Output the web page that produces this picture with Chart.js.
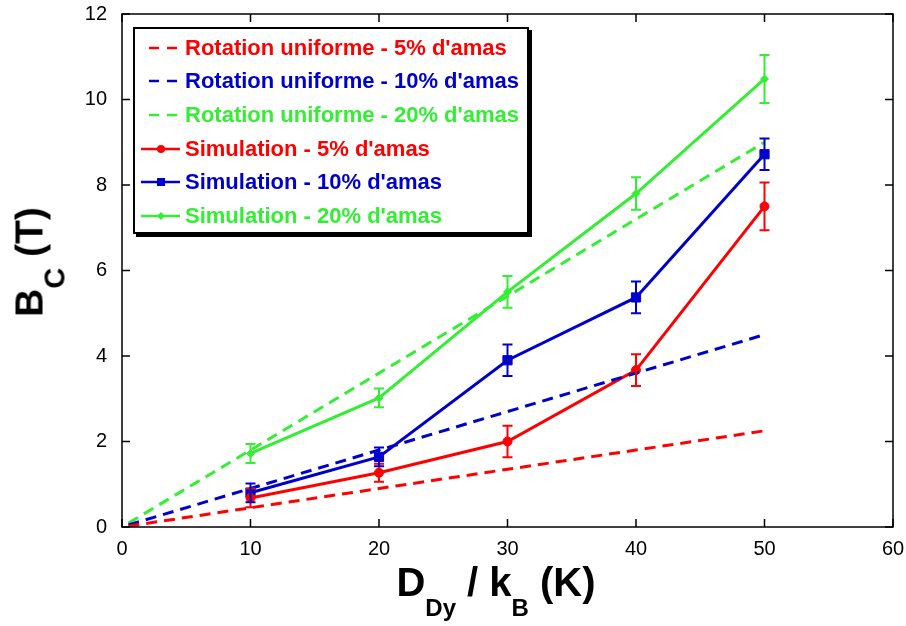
<!DOCTYPE html>
<html>
<head>
<meta charset="utf-8">
<script src="https://cdn.jsdelivr.net/npm/chart.js@4"></script>
<style>
  body { margin: 0; background: #fff; }
  #wrap { position: relative; width: 906px; height: 626px; font-family: "Liberation Sans", Arial, sans-serif; }
  #myChart { position: absolute; left: 0; top: 0; }
  .axTitle { position: absolute; font-weight: bold; line-height: 1; white-space: nowrap; color: #000; }
  .axTitle .sb { position: relative; }
  #yTitle { font-size: 39px; left: 29px; top: 262px; transform: translate(-50%, -50%) rotate(-90deg); }
  #yTitle .sb { font-size: 29px; top: 22px; }
  #xTitle { font-size: 40px; left: 496px; top: 562px; transform: translateX(-50%); }
  #xTitle .sb { font-size: 24px; top: 20px; }
  #legend { position: absolute; left: 133px; top: 27px; width: 392px; height: 201px; border: 2px solid #000;
            box-shadow: 3px 3px 0 #000; background: #fff; padding-top: 2px; box-sizing: content-box; }
  .row { display: flex; align-items: center; height: 33.6px; font-weight: bold; font-size: 22px; white-space: nowrap; }
  .row svg { margin-left: 6px; margin-right: 4px; }
</style>
</head>
<body>
<div id="wrap">
  <canvas id="myChart" width="906" height="626"></canvas>
  <div id="legend"></div>
  <div class="axTitle" id="yTitle">B<span class="sb">C</span> (T)</div>
  <div class="axTitle" id="xTitle">D<span class="sb">Dy</span> / k<span class="sb">B</span> (K)</div>
</div>
<script>
// D_Dy / kB values (K)
const xSim = [10, 20, 30, 40, 50];
const xUni = [0.5, 10, 20, 30, 40, 50];

// uniform rotation model (dashed)
const uni5 = [0.02, 0.45, 0.9, 1.35, 1.8, 2.25];
const uni10 = [0.05, 0.9, 1.8, 2.7, 3.6, 4.5];
const uni20 = [0.09, 1.8, 3.6, 5.4, 7.2, 9.0];

// simulation points + error bars
const sim5 = [0.68, 1.27, 2.0, 3.67, 7.5];
const err5 = [0.22, 0.21, 0.37, 0.37, 0.56];
const sim10 = [0.8, 1.64, 3.9, 5.37, 8.72];
const err10 = [0.22, 0.22, 0.37, 0.37, 0.37];
const sim20 = [1.72, 3.02, 5.5, 7.8, 10.48];
const err20 = [0.22, 0.22, 0.37, 0.38, 0.56];

const xTicks = [0, 10, 20, 30, 40, 50, 60];
const yTicks = [0, 2, 4, 6, 8, 10, 12];

const red = '#ff0000', blue = '#0000cc', green = '#33ee33';

function pts(xs, ys) {
  return xs.map((x, i) => ({x: x, y: ys[i]}));
}

function dashed(label, ys, color) {
  return {
    label: label, data: pts(xUni, ys), borderColor: color, backgroundColor: color,
    borderWidth: 3, borderDash: [11, 7], pointRadius: 0, dashed: true
  };
}
function simul(label, ys, errs, color, style, r) {
  return {
    label: label, data: pts(xSim, ys), errors: errs, borderColor: color, backgroundColor: color,
    borderWidth: 3, pointStyle: style, pointRadius: r, pointBorderWidth: 1,
    pointBackgroundColor: color, pointBorderColor: color
  };
}

const datasets = [
  dashed("Rotation uniforme - 5% d'amas", uni5, red),
  dashed("Rotation uniforme - 10% d'amas", uni10, blue),
  dashed("Rotation uniforme - 20% d'amas", uni20, green),
  simul("Simulation - 5% d'amas", sim5, err5, red, 'circle', 4.5),
  simul("Simulation - 10% d'amas", sim10, err10, blue, 'rect', 6.5),
  simul("Simulation - 20% d'amas", sim20, err20, green, 'rectRot', 4)
];

// error bars from the library scales
const errorBars = {
  id: 'errorBars',
  afterDatasetsDraw(chart) {
    const ctx = chart.ctx, xs = chart.scales.x, ys = chart.scales.y;
    chart.data.datasets.forEach(ds => {
      if (!ds.errors) return;
      ctx.save();
      ctx.strokeStyle = ds.borderColor;
      ctx.lineWidth = 2;
      ds.data.forEach((p, i) => {
        const px = xs.getPixelForValue(p.x);
        const top = ys.getPixelForValue(p.y + ds.errors[i]);
        const bot = ys.getPixelForValue(p.y - ds.errors[i]);
        ctx.beginPath();
        ctx.moveTo(px, top); ctx.lineTo(px, bot);
        ctx.moveTo(px - 5, top); ctx.lineTo(px + 5, top);
        ctx.moveTo(px - 5, bot); ctx.lineTo(px + 5, bot);
        ctx.stroke();
      });
      ctx.restore();
    });
  }
};

// box frame with inward ticks on all four sides
const frame = {
  id: 'frame',
  afterDraw(chart) {
    const ctx = chart.ctx, a = chart.chartArea, xs = chart.scales.x, ys = chart.scales.y;
    ctx.save();
    ctx.strokeStyle = '#000';
    ctx.lineWidth = 1.5;
    ctx.strokeRect(a.left, a.top, a.right - a.left, a.bottom - a.top);
    ctx.beginPath();
    xTicks.forEach(v => {
      const px = xs.getPixelForValue(v);
      ctx.moveTo(px, a.bottom); ctx.lineTo(px, a.bottom - 8);
      ctx.moveTo(px, a.top); ctx.lineTo(px, a.top + 8);
    });
    yTicks.forEach(v => {
      const py = ys.getPixelForValue(v);
      ctx.moveTo(a.left, py); ctx.lineTo(a.left + 8, py);
      ctx.moveTo(a.right, py); ctx.lineTo(a.right - 8, py);
    });
    ctx.stroke();
    ctx.restore();
  }
};

const tickFont = {family: '"Liberation Sans", Arial, sans-serif', size: 20};

const chart = new Chart(document.getElementById('myChart'), {
  type: 'line',
  data: {datasets: datasets},
  plugins: [errorBars, frame],
  options: {
    responsive: false,
    animation: false,
    layout: {padding: {left: 0, top: 14, right: 13, bottom: 0}},
    plugins: {legend: {display: false}, tooltip: {enabled: false}},
    scales: {
      x: {
        type: 'linear', min: 0, max: 60,
        afterBuildTicks: s => { s.ticks = xTicks.map(v => ({value: v})); },
        ticks: {font: tickFont, color: '#000', padding: 10, maxRotation: 0},
        grid: {display: false, drawTicks: false},
        border: {display: false},
        afterFit: s => { s.height = 99; s.paddingLeft = 0; s.paddingRight = 0; }
      },
      y: {
        type: 'linear', min: 0, max: 12,
        afterBuildTicks: s => { s.ticks = yTicks.map(v => ({value: v})); },
        ticks: {font: tickFont, color: '#000', padding: 15},
        grid: {display: false, drawTicks: false},
        border: {display: false},
        afterFit: s => { s.width = 122; s.paddingTop = 0; s.paddingBottom = 0; }
      }
    }
  }
});

// legend box built from the datasets
const leg = document.getElementById('legend');
datasets.forEach(ds => {
  const row = document.createElement('div');
  row.className = 'row';
  row.style.color = ds.borderColor;
  let svg = '<svg width="40" height="20" viewBox="0 0 40 20">';
  if (ds.dashed) {
    svg += '<line x1="8" y1="10" x2="39" y2="10" stroke="' + ds.borderColor + '" stroke-width="2.5" stroke-dasharray="10,8"/>';
  } else {
    svg += '<line x1="0" y1="10" x2="39" y2="10" stroke="' + ds.borderColor + '" stroke-width="2.5"/>';
    if (ds.pointStyle === 'circle') svg += '<circle cx="20" cy="10" r="4" fill="' + ds.borderColor + '"/>';
    else if (ds.pointStyle === 'rect') svg += '<rect x="16" y="6" width="8" height="8" fill="' + ds.borderColor + '"/>';
    else svg += '<polygon points="20,6 24,10 20,14 16,10" fill="' + ds.borderColor + '"/>';
  }
  svg += '</svg>';
  row.innerHTML = svg + '<span></span>';
  row.querySelector('span').textContent = ds.label;
  leg.appendChild(row);
});
</script>
</body>
</html>
